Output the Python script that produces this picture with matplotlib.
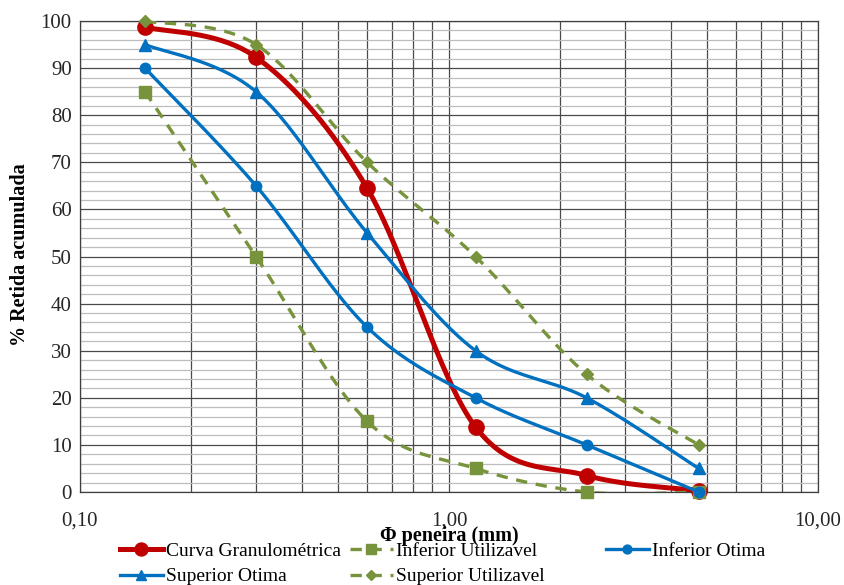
import numpy as np
import matplotlib
matplotlib.use("Agg")
import matplotlib.pyplot as plt
from matplotlib.ticker import FixedLocator, NullFormatter

plt.rcParams['font.family'] = ['Liberation Serif', 'DejaVu Serif']

sieves = [0.15, 0.30, 0.60, 1.18, 2.36, 4.75]
curva = [98.7, 92.3, 64.5, 13.8, 3.5, 0.3]
inf_util = [85, 50, 15, 5, 0, 0]
inf_otima = [90, 65, 35, 20, 10, 0]
sup_otima = [95, 85, 55, 30, 20, 5]
sup_util = [100, 95, 70, 50, 25, 10]

x_ticks = [0.1, 1.0, 10.0]
x_ticklabels = ["0,10", "1,00", "10,00"]
y_ticks = list(range(0, 101, 10))

fig = plt.figure(figsize=(8.44, 5.85), dpi=100)
ax = fig.add_axes([80/844, 1-492/585, (818-80)/844, (492-21)/585])
ax.set_xscale('log')
ax.set_xlim(0.1, 10)
ax.set_ylim(0, 100)


def smooth(xs, ys, n=40):
    # Catmull-Rom style smoothing (like Excel smoothed lines) in log-x space
    lx = np.log10(xs)
    sx = 738 / 2.0
    sy = 471 / 100.0
    P = np.column_stack([lx * sx, np.asarray(ys, float) * sy])
    out = [P[0]]
    m = len(P)
    for i in range(m - 1):
        p0 = P[i - 1] if i > 0 else P[i]
        p1 = P[i]
        p2 = P[i + 1]
        p3 = P[i + 2] if i + 2 < m else P[i + 1]
        c1 = p1 + (p2 - p0) / 6.0
        c2 = p2 - (p3 - p1) / 6.0
        t = np.linspace(0, 1, n)[1:, None]
        seg = ((1 - t) ** 3) * p1 + 3 * ((1 - t) ** 2) * t * c1 + 3 * (1 - t) * t ** 2 * c2 + t ** 3 * p2
        out.extend(seg)
    out = np.array(out)
    return 10 ** (out[:, 0] / sx), out[:, 1] / sy


red = '#C00000'
green = '#77933C'
blue = '#0070C0'
dash = (0, (3.4, 2.6))

series = [
    ("Curva Granulométrica", curva, dict(color=red, lw=3.6, ls='-'), dict(marker='o', ms=11)),
    ("Inferior Utilizavel", inf_util, dict(color=green, lw=2.4, ls=dash), dict(marker='s', ms=8.5)),
    ("Inferior Otima", inf_otima, dict(color=blue, lw=2.4, ls='-'), dict(marker='o', ms=7.5)),
    ("Superior Otima", sup_otima, dict(color=blue, lw=2.4, ls='-'), dict(marker='^', ms=8.5)),
    ("Superior Utilizavel", sup_util, dict(color=green, lw=2.4, ls=dash), dict(marker='D', ms=6)),
]

handles = {}
for z, (name, ys, lst, mk) in enumerate(series):
    sx_, sy_ = smooth(sieves, ys)
    ax.plot(sx_, sy_, zorder=3 + z, **lst)
    ax.plot(sieves, ys, ls='none', color=lst['color'], mec=lst['color'], zorder=3 + z, clip_on=False, **mk)
    h, = ax.plot([], [], color=lst['color'], lw=lst['lw'], ls=lst['ls'], marker=mk['marker'],
                 ms=mk['ms'] * 0.85, mec=lst['color'])
    handles[name] = h

ax.xaxis.set_major_locator(FixedLocator(x_ticks))
ax.set_xticklabels(x_ticklabels)
ax.xaxis.set_minor_locator(FixedLocator([k * 0.1 for k in range(2, 10)] + [k * 1.0 for k in range(2, 10)]))
ax.xaxis.set_minor_formatter(NullFormatter())
ax.set_yticks(y_ticks)
ax.set_yticks(list(range(0, 101, 2)), minor=True)

ax.grid(which='major', axis='both', color='#4A4A4A', lw=0.9)
ax.grid(which='minor', axis='x', color='#4A4A4A', lw=0.9)
ax.grid(which='minor', axis='y', color='#BDBDBD', lw=0.9)
ax.set_axisbelow(True)
ax.tick_params(which='both', length=0)
ax.tick_params(axis='both', labelsize=15, colors='#262626')
ax.tick_params(axis='x', pad=14)
ax.tick_params(axis='y', pad=6)
for s in ax.spines.values():
    s.set_color('#404040')
    s.set_linewidth(0.9)

fig.text(449/844, 1-536/585, "Φ peneira (mm)", ha='center', va='center', fontsize=14.5, fontweight='bold')
fig.text(20/844, 1-255/585, "% Retida acumulada", ha='center', va='center', rotation=90,
         fontsize=14.5, fontweight='bold')

columns = [
    (["Curva Granulométrica", "Superior Otima"], 120),
    (["Inferior Utilizavel", "Superior Utilizavel"], 350),
    (["Inferior Otima"], 606),
]
for names, xpx in columns:
    lg = fig.legend([handles[k] for k in names], names, ncol=1, loc='upper left',
                    bbox_to_anchor=(xpx/844, 1-542/585), frameon=False, fontsize=14,
                    handlelength=2.2, handletextpad=0.15, labelspacing=0.42,
                    borderpad=0, borderaxespad=0)

fig.savefig("out.png", dpi=100)
